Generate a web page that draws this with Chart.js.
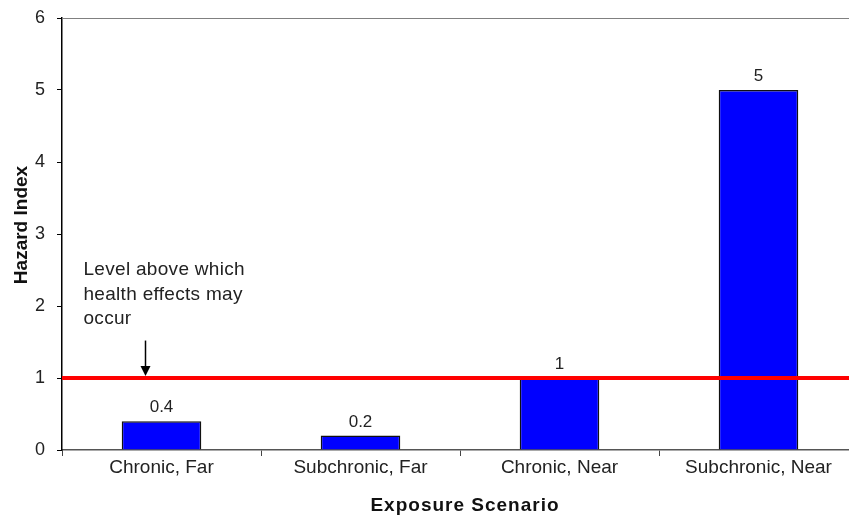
<!DOCTYPE html>
<html>
<head>
<meta charset="utf-8">
<script src="https://cdn.jsdelivr.net/npm/chart.js@4"></script>
<style>
  html, body { margin: 0; padding: 0; background: #fff; overflow: hidden; }
  #wrap { width: 858px; height: 517px; }
</style>
</head>
<body>
<div id="wrap"><canvas id="hazard-chart"></canvas></div>
<script>
// values
const scenarios = ['Chronic, Far', 'Subchronic, Far', 'Chronic, Near', 'Subchronic, Near'];
const hazardIndex = [0.4, 0.2, 1, 5];
const valueLabels = ['0.4', '0.2', '1', '5'];
const yTicks = [0, 1, 2, 3, 4, 5, 6];
const threshold = 1;
const noteLines = ['Level above which', 'health effects may', 'occur'];
const xTitle = 'Exposure Scenario';
const yTitle = 'Hazard Index';

const FONT = '"Liberation Sans", Arial, sans-serif';

// red threshold line, top border, note + arrow, value labels, axis titles
const extras = {
    id: 'extras',
    afterDatasetsDraw(chart) {
        const { ctx, chartArea, scales } = chart;
        const x = scales.x, y = scales.y;
        ctx.save();

        // top border of plot
        ctx.strokeStyle = '#808080';
        ctx.lineWidth = 1;
        ctx.beginPath();
        ctx.moveTo(chartArea.left, chartArea.top + 0.5);
        ctx.lineTo(chartArea.right, chartArea.top + 0.5);
        ctx.stroke();

        // value labels above bars
        ctx.fillStyle = '#222';
        ctx.font = '17px ' + FONT;
        ctx.textAlign = 'center';
        ctx.textBaseline = 'alphabetic';
        chart.getDatasetMeta(0).data.forEach((bar, i) => {
            ctx.fillText(valueLabels[i], bar.x, bar.y - 9);
        });

        // threshold line
        const ty = y.getPixelForValue(threshold);
        ctx.strokeStyle = '#ff0000';
        ctx.lineWidth = 4;
        ctx.beginPath();
        ctx.moveTo(chartArea.left, ty);
        ctx.lineTo(chartArea.right, ty);
        ctx.stroke();

        // note text
        const cx = x.getPixelForValue(0);
        ctx.fillStyle = '#222';
        ctx.font = '19px ' + FONT;
        ctx.letterSpacing = '0.3px';
        ctx.textAlign = 'left';
        ctx.textBaseline = 'middle';
        const noteY = [2.5, 2.15, 1.82];
        noteLines.forEach((t, i) => ctx.fillText(t, cx - 78, y.getPixelForValue(noteY[i])));
        ctx.letterSpacing = '0px';

        // arrow
        const ax = cx - 16;
        const a0 = y.getPixelForValue(1.52);
        const a1 = ty - 2;
        ctx.strokeStyle = '#000';
        ctx.fillStyle = '#000';
        ctx.lineWidth = 1.5;
        ctx.beginPath();
        ctx.moveTo(ax, a0);
        ctx.lineTo(ax, a1 - 8);
        ctx.stroke();
        ctx.beginPath();
        ctx.moveTo(ax - 5, a1 - 10);
        ctx.lineTo(ax + 5, a1 - 10);
        ctx.lineTo(ax, a1);
        ctx.closePath();
        ctx.fill();

        // x axis title
        ctx.fillStyle = '#111';
        ctx.font = 'bold 19px ' + FONT;
        ctx.letterSpacing = '1px';
        ctx.textAlign = 'center';
        ctx.textBaseline = 'alphabetic';
        ctx.fillText(xTitle, (chartArea.left + chartArea.right) / 2 + 5, chartArea.bottom + 61);
        ctx.letterSpacing = '0px';

        // y axis title
        ctx.save();
        ctx.translate(27, (chartArea.top + chartArea.bottom) / 2 - 9);
        ctx.rotate(-Math.PI / 2);
        ctx.font = 'bold 19px ' + FONT;
        ctx.textAlign = 'center';
        ctx.textBaseline = 'alphabetic';
        ctx.fillText(yTitle, 0, 0);
        ctx.restore();

        ctx.restore();
    }
};

const ctx = document.getElementById('hazard-chart').getContext('2d');
const chart = new Chart(ctx, {
    type: 'bar',
    data: {
        labels: scenarios,
        datasets: [{
            data: hazardIndex,
            backgroundColor: '#0000ff',
            borderColor: '#111',
            borderWidth: 1.5,
            categoryPercentage: 0.8,
            barPercentage: 0.5
        }]
    },
    options: {
        responsive: true,
        maintainAspectRatio: false,
        animation: false,
        layout: { padding: { top: 18, right: 0, left: 0, bottom: 0 } },
        plugins: {
            legend: { display: false },
            tooltip: { enabled: false }
        },
        scales: {
            x: {
                grid: { drawOnChartArea: false, drawTicks: true, tickLength: 6, color: '#444', offset: true },
                border: { color: '#555', width: 1.5 },
                ticks: { color: '#222', font: { family: FONT, size: 19 }, padding: 0, maxRotation: 0 },
                afterFit(scale) {
                    scale.height = 67;
                    scale.paddingLeft = 0;
                    scale.paddingRight = 0;
                }
            },
            y: {
                min: 0,
                max: 6,
                afterBuildTicks(scale) { scale.ticks = yTicks.map(v => ({ value: v })); },
                grid: { drawOnChartArea: false, drawTicks: true, tickLength: 5, color: '#000' },
                border: { color: '#000', width: 1.5 },
                ticks: { color: '#222', font: { family: FONT, size: 18 }, padding: 12 },
                afterFit(scale) {
                    scale.width = 62;
                    scale.paddingTop = 0;
                    scale.paddingBottom = 0;
                }
            }
        }
    },
    plugins: [extras]
});
</script>
</body>
</html>
